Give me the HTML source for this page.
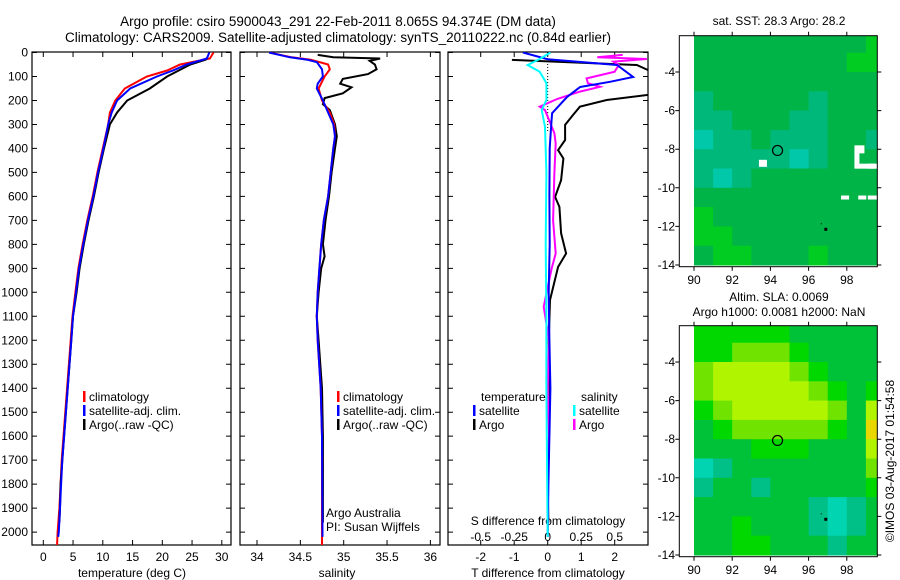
<!DOCTYPE html>
<html><head><meta charset="utf-8">
<style>
html,body{margin:0;padding:0;background:#fff;}
svg{display:block;font-family:"Liberation Sans",sans-serif;}
text{font-size:12px;fill:#000;}
</style></head>
<body>
<svg id="chart" width="900" height="580" viewBox="0 0 900 580" xmlns="http://www.w3.org/2000/svg">
<defs>
<clipPath id="c1"><rect x="32" y="52" width="199" height="493"/></clipPath>
<clipPath id="c2"><rect x="240" y="52" width="200" height="493"/></clipPath>
<clipPath id="c3"><rect x="448" y="52" width="200" height="493"/></clipPath>
<clipPath id="m1"><rect x="694" y="35.7" width="183.3" height="231"/></clipPath>
<clipPath id="m2"><rect x="694" y="325.7" width="183.3" height="231"/></clipPath>
</defs>
<text x="338" y="26" text-anchor="middle" style="font-size:13.5px">Argo profile: csiro 5900043_291 22-Feb-2011 8.065S 94.374E (DM data)</text>
<text x="338" y="42" text-anchor="middle" style="font-size:13.5px">Climatology: CARS2009. Satellite-adjusted climatology: synTS_20110222.nc (0.84d earlier)</text>
<g id="layer"></g>
</svg>
<script>
// ---------- data ----------
const depthTicks=[0,100,200,300,400,500,600,700,800,900,1000,1100,1200,1300,1400,1500,1600,1700,1800,1900,2000];
const tempTicks=[0,5,10,15,20,25,30];
const salTicks=[34,34.5,35,35.5,36];
const salTickLabels=["34","34.5","35","35.5","36"];
const tdiffTicks=[-2,-1,0,1,2];
const sdiffTickLabels=["-0.5","-0.25","0","0.25","0.5"];
const sdiffTicks=[-0.5,-0.25,0,0.25,0.5];

const tClimDepth=[0,25,50,75,100,150,200,250,300,400,500,600,700,800,900,1000,1100,1200,1300,1400,1500,1600,1700,1800,1900,2000,2060];
const tClim=[28.6,28.0,23.0,20.8,17.4,13.7,12.1,11.2,10.9,10.0,9.1,8.3,7.4,6.6,5.9,5.4,4.9,4.6,4.3,4.0,3.7,3.4,3.1,2.9,2.7,2.4,2.3];
const tSatDepth=[0,25,50,75,100,150,200,250,300,400,500,600,700,800,900,1000,1100,1200,1300,1400,1500,1600,1700,1800,1900,2000,2020];
const tSat=[27.9,27.5,24.1,21.8,19.1,14.6,12.4,11.5,10.9,10.1,9.2,8.4,7.5,6.7,6.0,5.5,5.0,4.7,4.4,4.1,3.8,3.5,3.2,3.0,2.8,2.6,2.5];
const tArgoDepth=[20,30,50,100,150,200,250,300,400,500,600,700,800,900,1000,1100,1200,1300,1400,1500,1600,1700,1800,1900,1960];
const tArgo=[27.6,27.3,24.7,20.8,17.9,14.1,12.4,11.2,10.2,9.3,8.5,7.6,6.8,6.1,5.6,5.0,4.7,4.4,4.1,3.8,3.5,3.2,2.9,2.8,2.7];

const sClimDepth=[0,20,30,50,70,100,150,200,250,300,350,400,500,600,700,800,900,1000,1100,1200,1400,1600,2000,2060];
const sClim=[34.14,34.40,34.62,34.82,34.84,34.78,34.71,34.75,34.84,34.89,34.90,34.88,34.85,34.82,34.77,34.74,34.72,34.70,34.69,34.70,34.735,34.75,34.75,34.75];
const sSatDepth=[0,20,30,40,70,100,130,150,200,250,300,350,400,500,600,700,800,900,1000,1100,1200,1400,1600,2000,2020];
const sSat=[34.14,34.38,34.58,34.69,34.75,34.76,34.70,34.69,34.76,34.82,34.88,34.90,34.88,34.85,34.82,34.77,34.74,34.72,34.70,34.69,34.70,34.735,34.75,34.755,34.755];
const sArgoDepth=[10,20,25,35,50,70,90,110,130,145,170,190,215,240,300,350,400,500,600,700,800,850,900,1000,1100,1200,1400,1600,1800,1960];
const sArgo=[34.70,34.88,35.42,35.30,35.36,35.38,35.28,34.99,34.96,35.09,34.99,34.78,34.76,34.84,34.90,34.92,34.90,34.86,34.83,34.79,34.76,34.78,34.74,34.71,34.69,34.71,34.75,34.76,34.76,34.76];

const dTSatDepth=[0,28,52,102,122,144,185,253,310,400,600,800,1000,1200,1400,1600,1800,2020];
const dTSat=[-0.74,0.0,2.07,2.55,1.86,0.97,0.58,0.13,0.10,0.06,0.05,0.06,0.03,0.05,0.08,0.05,0.02,0.0];
const dTArgoDepth=[31,52,105,177,198,226,260,302,365,407,442,532,602,644,754,838,894,1032,1200,1400,1600,1800,1960];
const dTArgo=[-1.07,2.66,3.5,3.0,1.76,0.96,0.76,0.52,0.52,0.31,0.47,0.40,0.22,0.35,0.40,0.55,0.31,0.07,0.03,0.06,0.04,0.0,0.02];
const dSSatDepth=[0,27,52,80,128,198,240,310,500,800,1100,1400,1700,2020];
const dSSat=[0.02,-0.06,-0.15,-0.06,-0.01,-0.01,-0.045,-0.02,-0.01,-0.015,-0.01,-0.01,-0.005,0.0];
const dSArgoDepth=[10,20,27,38,52,80,108,128,143,163,194,226,240,337,380,500,700,838,900,1060,1200,1400,1600,1800,1960];
const dSArgo=[0.56,0.37,0.74,0.49,0.53,0.50,0.29,0.30,0.39,0.24,0.07,-0.06,-0.02,0.05,0.06,0.05,0.04,0.06,0.03,-0.03,0.01,0.0,0.01,0.0,0.0];

// Map grids: rows lat -2..-14 (1 deg), cols lon 90..99
const sstGrid=[
[1,1,1,1,1,1,1,1,1,0],
[1,1,1,1,1,1,1,1,0,0],
[1,1,1,1,1,1,1,1,1,1],
[2,1,1,1,1,1,2,1,1,1],
[2,2,1,1,1,2,2,1,1,1],
[3,2,2,1,2,2,2,1,1,2],
[2,2,2,2,2,3,2,1,1,1],
[2,3,2,1,1,1,1,1,1,1],
[1,1,1,1,1,1,1,1,1,1],
[0,1,1,1,1,1,1,1,1,1],
[0,0,1,1,1,1,1,1,1,1],
[1,0,0,1,1,1,0,1,1,1]];
const sstColors=["#00cc22","#00b448","#00b87a","#00c8a8"];
const sstMissingLon=[93.4,98.4,98.4,98.4,98.4,99.1,97.7,98.6,99.1];
const sstMissingLat=[-8.55,-7.8,-8.1,-8.5,-8.75,-8.75,-10.4,-10.4,-10.4];
const sstMissingW=[8,10,5,5,21,10,8,8,10];
const sstMissingH=[7,8,8,8,5,5,4,4,4];
const slaGrid=[
[1,1,1,1,1,0,0,0,0,0],
[1,1,2,2,2,1,0,0,0,0],
[2,3,3,3,3,2,1,0,0,0],
[2,3,3,3,3,3,2,1,0,1],
[1,2,3,3,3,3,3,2,0,3],
[0,1,2,2,2,2,2,1,0,4],
[0,0,0,1,1,1,0,0,0,3],
[6,5,0,0,0,0,0,0,0,2],
[5,0,0,5,0,0,0,0,0,1],
[0,0,0,0,0,0,5,6,5,0],
[0,0,1,0,0,0,5,6,5,0],
[0,0,1,1,0,0,0,5,0,0]];
const slaColors=["#00c238","#00d800","#70e400","#b0f400","#e8d800","#00c088","#00d4b0"];
const argoLon=94.374, argoLat=-8.065;
const dotLon=96.9, dotLat=-12.15;
const lonTicks=[90,92,94,96,98];
const latTicks=[-4,-6,-8,-10,-12,-14];

// ---------- scales ----------
const yD=d=>52.5+d*0.2398;
const xT=t=>43.3+t*5.95;
const xS=s=>257+(s-34)*86.7;
const xDT=v=>547.7+v*33.5;
const xDS=v=>547.7+v*4*33.5;
const xLon=l=>694+(l-90)*19.1;
const yLat=(l,off)=>off+72+(-4-l)*19.3;

const NS="http://www.w3.org/2000/svg";
const layer=document.getElementById('layer');
function mk(tag,attrs,parent){const e=document.createElementNS(NS,tag);for(const k in attrs)e.setAttribute(k,attrs[k]);(parent||layer).appendChild(e);return e;}
function txt(x,y,s,anchor,parent){const e=mk('text',{x:x,y:y,'text-anchor':anchor||'start'},parent);e.textContent=s;return e;}

function line(depths,vals,xf,color,clip,name,w){
  let d='';
  for(let i=0;i<depths.length;i++){d+=(i?'L':'M')+xf(vals[i]).toFixed(1)+','+yD(depths[i]).toFixed(1);}
  const p=mk('path',{d:d,fill:'none',stroke:color,'stroke-width':w||2,'clip-path':'url(#'+clip+')'});
  
  
}

function panel(x0,x1,name){
  const r=mk('rect',{x:x0,y:52,width:x1-x0,height:493,fill:'none',stroke:'#000','stroke-width':1.2});
  
  
  depthTicks.forEach(d=>{const y=yD(d);mk('path',{d:`M${x0},${y}h5M${x1},${y}h-5`,stroke:'#000'});});
}
// panel 1
panel(32,231,'temperature-panel');
depthTicks.forEach(d=>{const t=txt(28,yD(d)+4,String(d),'end');});
tempTicks.forEach(v=>{const x=xT(v);mk('path',{d:`M${x},545v-5M${x},52v5`,stroke:'#000'});const t=txt(x,561,String(v),'middle');});
{const t=txt(132,577,'temperature (deg C)','middle');}
line(tClimDepth,tClim,xT,'#ff0000','c1','temp-climatology-line');
line(tArgoDepth,tArgo,xT,'#000000','c1','temp-argo-line');
line(tSatDepth,tSat,xT,'#0000ff','c1','temp-satellite-line');
// panel 2
panel(240,440,'salinity-panel');
salTicks.forEach((v,i)=>{const x=xS(v);mk('path',{d:`M${x},545v-5M${x},52v5`,stroke:'#000'});const t=txt(x,561,salTickLabels[i],'middle');});
{const t=txt(337,577,'salinity','middle');}
line(sArgoDepth,sArgo,xS,'#000000','c2','salinity-argo-line');
line(sClimDepth,sClim,xS,'#ff0000','c2','salinity-climatology-line');
line(sSatDepth,sSat,xS,'#0000ff','c2','salinity-satellite-line');
{const t=txt(326,517,'Argo Australia');
 const t2=txt(326,531,'PI: Susan Wijffels');}
// panel 3
panel(448,648,'difference-panel');
mk('path',{d:`M${xDT(0)},52V132`,stroke:'#000','stroke-dasharray':'1,2'});
tdiffTicks.forEach(v=>{const x=xDT(v);mk('path',{d:`M${x},545v-5M${x},52v5`,stroke:'#000'});const t=txt(x,561,String(v),'middle');});
sdiffTicks.forEach((v,i)=>{const t=txt(xDS(v),541,sdiffTickLabels[i],'middle');});
{const t=txt(548,525,'S difference from climatology','middle');
 const t2=txt(548,577,'T difference from climatology','middle');}
line(dTArgoDepth,dTArgo,xDT,'#000000','c3','tdiff-argo-line');
line(dSArgoDepth,dSArgo,xDS,'#ff00ff','c3','sdiff-argo-line');
line(dTSatDepth,dTSat,xDT,'#0000ff','c3','tdiff-satellite-line');
line(dSSatDepth,dSSat,xDS,'#00ffff','c3','sdiff-satellite-line');

// legends
function legendEntry(x,y,color,label,name){
  const g=mk('g',{});
  
  
  mk('rect',{x:x,y:y-10,width:2.5,height:11,fill:color},g);
  txt(x+6,y,label,'start',g);
}
legendEntry(83,401,'#ff0000','climatology','legend-entry-climatology');
legendEntry(83,415,'#0000ff','satellite-adj. clim.','legend-entry-satellite-adj');
legendEntry(83,429,'#000000','Argo(..raw -QC)','legend-entry-argo');
legendEntry(337,401,'#ff0000','climatology','legend-entry-climatology-2');
legendEntry(337,415,'#0000ff','satellite-adj. clim.','legend-entry-satellite-adj-2');
legendEntry(337,429,'#000000','Argo(..raw -QC)','legend-entry-argo-2');
{const t=txt(481,401,'temperature');
 const t2=txt(581,401,'salinity');}
legendEntry(473,415,'#0000ff','satellite','legend-entry-t-satellite');
legendEntry(473,429,'#000000','Argo','legend-entry-t-argo');
legendEntry(573,415,'#00ffff','satellite','legend-entry-s-satellite');
legendEntry(573,429,'#ff00ff','Argo','legend-entry-s-argo');

// maps
function map(grid,colors,off,clip,name){
  const g=mk('g',{'clip-path':'url(#'+clip+')'});
  
  
  for(let r=0;r<grid.length;r++)for(let c=0;c<grid[r].length;c++){
    const x=xLon(90+c),y=yLat(-2-r,off);
    const cell=mk('rect',{x:x,y:y,width:19.6,height:19.8,fill:colors[grid[r][c]]},g);
    
    
  }
  return g;
}
function mapFrame(off){
  mk('rect',{x:679.3,y:off+35.7,width:198,height:231,fill:'none',stroke:'#000'});
  lonTicks.forEach(l=>{const x=xLon(l);mk('path',{d:`M${x},${off+35.7}v-4M${x},${off+266.7}v4`,stroke:'#000'});const t=txt(x,off+284,String(l),'middle');});
  latTicks.forEach(l=>{const y=yLat(l,off);mk('path',{d:`M877.3,${y}h4M679.3,${y}h-4`,stroke:'#000'});const t=txt(675,y+4,String(l),'end');});
  const c=mk('circle',{cx:xLon(argoLon),cy:yLat(argoLat,off),r:5,fill:'none',stroke:'#000','stroke-width':1.2});
  
  
  mk('rect',{x:xLon(dotLon)-1.5,y:yLat(dotLat,off)-1.5,width:3,height:3,fill:'#000'});
  mk('rect',{x:xLon(dotLon)-5,y:yLat(dotLat,off)-6,width:1,height:1,fill:'#000'});
}
map(sstGrid,sstColors,0,'m1','sst-map');
sstMissingLon.forEach((l,i)=>{const r=mk('rect',{x:xLon(l),y:yLat(sstMissingLat[i],0),width:sstMissingW[i],height:sstMissingH[i],fill:'#fff','clip-path':'url(#m1)'});});
mapFrame(0);
map(slaGrid,slaColors,290,'m2','sla-map');
mapFrame(290);
{const t=txt(779,25,'sat. SST: 28.3 Argo: 28.2','middle');
 const t2=txt(779,301,'Altim. SLA: 0.0069','middle');
 const t3=txt(779,316,'Argo h1000: 0.0081 h2000: NaN','middle');
 const t4=txt(0,0,'©IMOS 03-Aug-2017 01:54:58','middle');t4.setAttribute('transform','translate(894,461) rotate(-90)');}
</script>
</body></html>
